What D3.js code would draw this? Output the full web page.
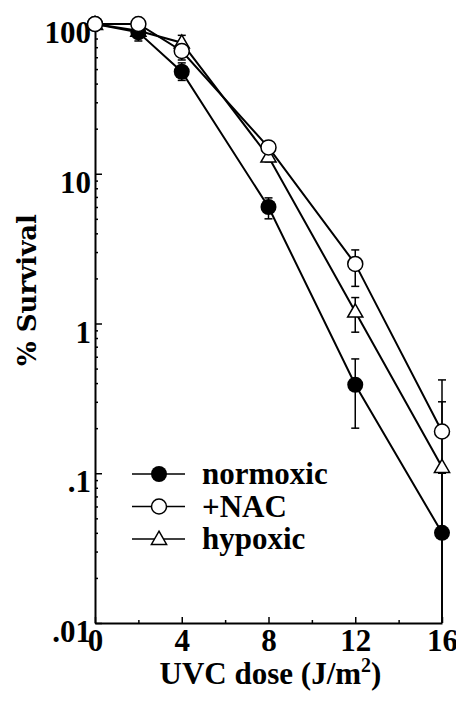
<!DOCTYPE html>
<html>
<head>
<meta charset="utf-8">
<script src="https://cdn.jsdelivr.net/npm/d3@7"></script>
<style>
  body { margin: 0; background: #fff; }
  .lbl { font-family: "Liberation Serif", "Times New Roman", serif; font-weight: bold; font-size: 31px; fill: #000; }
</style>
</head>
<body>
<div id="chart"></div>
<script>
// data
const dose = [0, 2, 4, 8, 12, 16];
const normoxic   = [100, 88, 48, 6, 0.39, 0.04];
const normoxicHi = [null, 95, 55, 6.9, 0.58, 0.1];
const normoxicLo = [null, 77, 42, 5.0, 0.2, 0.01];
const nac   = [100, 100, 66, 15, 2.5, 0.19];
const nacHi = [null, null, 72, 16, 3.1, 0.42];
const nacLo = [null, null, 57.5, 14, 1.77, 0.01];
const hypoxic   = [100, 90, 75, 13, 1.2, 0.11];
const hypoxicHi = [null, null, 84, 14, 1.49, 0.30];
const hypoxicLo = [null, null, 68, 12, 0.875, 0.01];
const seriesNames = ["normoxic", "+NAC", "hypoxic"];
const xTickVals = [0, 4, 8, 12, 16];
const xMinorVals = [2, 6, 10, 14];
const yTickVals = [100, 10, 1, 0.1, 0.01];
const yTickText = ["100", "10", "1", ".1", ".01"];

const W = 456, H = 707;
const margin = {top: 24, right: 14, bottom: 84, left: 95};
const width = W - margin.left - margin.right,
      height = H - margin.top - margin.bottom;

const svg = d3.select("#chart").append("svg")
    .attr("width", W).attr("height", H)
  .append("g")
    .attr("transform", "translate(" + margin.left + "," + margin.top + ")");

const x = d3.scaleLinear().domain([0, 16]).range([0, width]);
const y = d3.scaleLog().domain([0.01, 100]).range([height, 0]);

// minor log ticks
const yMinor = [];
[0.01, 0.1, 1, 10].forEach(d => { for (let k = 2; k <= 9; k++) yMinor.push(d * k); });

// y axis
svg.append("g")
    .call(d3.axisLeft(y).tickValues(yMinor).tickSize(-3).tickSizeOuter(0).tickFormat(""))
    .call(g => g.selectAll("line").attr("stroke-width", 1.5))
    .call(g => g.select(".domain").attr("stroke-width", 2));
svg.append("g")
    .call(d3.axisLeft(y).tickValues(yTickVals).tickSize(-7).tickSizeOuter(0)
      .tickPadding(4).tickFormat((d, i) => yTickText[i]))
    .call(g => g.select(".domain").remove())
    .call(g => g.selectAll("line").attr("stroke-width", 1.5))
    .call(g => g.selectAll("text").attr("class", "lbl").attr("font-size", null)
      .attr("font-family", null).attr("dy", "0.6em"));

// x axis
svg.append("g")
    .attr("transform", "translate(0," + height + ")")
    .call(d3.axisBottom(x).tickValues(xMinorVals).tickSize(-3).tickSizeOuter(0).tickFormat(""))
    .call(g => g.selectAll("line").attr("stroke-width", 1.5))
    .call(g => g.select(".domain").attr("stroke-width", 2));
svg.append("g")
    .attr("transform", "translate(0," + height + ")")
    .call(d3.axisBottom(x).tickValues(xTickVals).tickSize(-6).tickSizeOuter(0).tickPadding(6))
    .call(g => g.select(".domain").remove())
    .call(g => g.selectAll("line").attr("stroke-width", 1.5))
    .call(g => g.selectAll("text").attr("class", "lbl").attr("font-size", null)
      .attr("font-family", null));

// axis labels
svg.append("text")
    .attr("class", "lbl")
    .attr("text-anchor", "middle")
    .attr("x", width / 2 + 2)
    .attr("y", height + 61)
    .call(t => {
      t.append("tspan").text("UVC dose (J/m");
      t.append("tspan").attr("font-size", "20px").attr("dy", "-12").text("2");
      t.append("tspan").attr("dy", "12").text(")");
    });

svg.append("text")
    .attr("text-anchor", "middle")
    .attr("font-family", "DejaVu Serif, serif")
    .attr("font-weight", "bold")
    .attr("font-size", "26px")
    .attr("transform", `translate(${-59}, ${266}) rotate(-90)`)
    .text("% Survival");

// series
svg.append("defs").append("clipPath").attr("id", "clip")
  .append("rect").attr("x", -20).attr("y", -30).attr("width", width + 40).attr("height", height + 30);

const series = [
  {name: seriesNames[0], v: normoxic, hi: normoxicHi, lo: normoxicLo, shape: "filled"},
  {name: seriesNames[1], v: nac, hi: nacHi, lo: nacLo, shape: "open"},
  {name: seriesNames[2], v: hypoxic, hi: hypoxicHi, lo: hypoxicLo, shape: "tri"}
];

const line = d3.line().x((d, i) => x(dose[i])).y(d => y(d));
const plot = svg.append("g").attr("clip-path", "url(#clip)");

series.forEach(s => {
  plot.append("path").datum(s.v)
    .attr("fill", "none").attr("stroke", "#000").attr("stroke-width", 2)
    .attr("d", line);
});

// error bars
series.forEach(s => {
  dose.forEach((d, i) => {
    const cx = x(d);
    if (s.hi[i] != null) {
      plot.append("line").attr("x1", cx).attr("x2", cx)
        .attr("y1", y(s.v[i])).attr("y2", y(s.hi[i]))
        .attr("stroke", "#000").attr("stroke-width", 1.5);
      plot.append("line").attr("x1", cx - 4).attr("x2", cx + 4)
        .attr("y1", y(s.hi[i])).attr("y2", y(s.hi[i]))
        .attr("stroke", "#000").attr("stroke-width", 1.5);
    }
    if (s.lo[i] != null) {
      plot.append("line").attr("x1", cx).attr("x2", cx)
        .attr("y1", y(s.v[i])).attr("y2", y(s.lo[i]))
        .attr("stroke", "#000").attr("stroke-width", 1.5);
      if (s.lo[i] > 0.01) {
        plot.append("line").attr("x1", cx - 4).attr("x2", cx + 4)
          .attr("y1", y(s.lo[i])).attr("y2", y(s.lo[i]))
          .attr("stroke", "#000").attr("stroke-width", 1.5);
      }
    }
  });
});

function marker(g, shape, cx, cy) {
  if (shape === "filled") {
    g.append("circle").attr("cx", cx).attr("cy", cy).attr("r", 8).attr("fill", "#000");
  } else if (shape === "open") {
    g.append("circle").attr("cx", cx).attr("cy", cy).attr("r", 7.5)
      .attr("fill", "#fff").attr("stroke", "#000").attr("stroke-width", 1.5);
  } else {
    const sym = d3.symbol().type(d3.symbolTriangle).size(100);
    g.append("path").attr("d", sym()).attr("transform", `translate(${cx},${cy + 1})`)
      .attr("fill", "#fff").attr("stroke", "#000").attr("stroke-width", 1.5);
  }
}

// markers: triangles first, then filled, then open on top
[2, 0, 1].forEach(k => {
  const s = series[k];
  s.v.forEach((v, i) => marker(svg, s.shape, x(dose[i]), y(v)));
});

// legend
const legend = svg.append("g").attr("transform", "translate(37, 450)");
series.forEach((s, i) => {
  const row = legend.append("g").attr("transform", `translate(0, ${i * 32.5})`);
  row.append("line").attr("x1", 0).attr("x2", 53).attr("y1", 0).attr("y2", 0)
    .attr("stroke", "#000").attr("stroke-width", 1.5);
  marker(row, s.shape, 27, 0);
  row.append("text").attr("class", "lbl").attr("x", 70).attr("y", 10).text(s.name);
});
</script>
</body>
</html>
